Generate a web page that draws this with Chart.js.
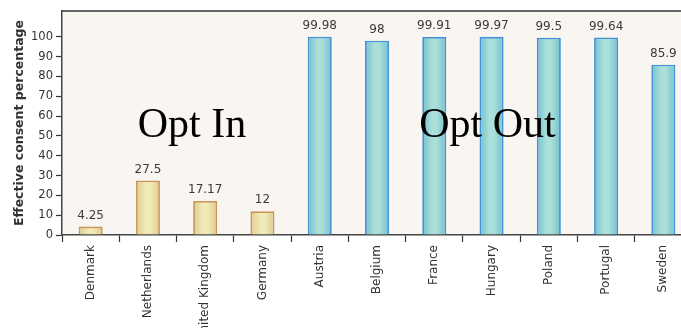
<!DOCTYPE html>
<html>
<head>
<meta charset="utf-8">
<script src="https://cdn.jsdelivr.net/npm/chart.js@4/dist/chart.umd.min.js"></script>
<style>
  html, body { margin: 0; padding: 0; background: #ffffff; overflow: hidden; }
  #wrap { position: relative; width: 692px; height: 328px; }
</style>
</head>
<body>
<div id="wrap"><canvas id="chart"></canvas></div>
<script>
// Effective organ-donation consent by country, grouped by consent system
const countries = ['Denmark', 'Netherlands', 'United Kingdom', 'Germany', 'Austria', 'Belgium',
                   'France', 'Hungary', 'Poland', 'Portugal', 'Sweden'];
const consentRates = [4.25, 27.5, 17.17, 12, 99.98, 98, 99.91, 99.97, 99.5, 99.64, 85.9];
const consentSystem = ['in', 'in', 'in', 'in', 'out', 'out', 'out', 'out', 'out', 'out', 'out'];
const yTickValues = [0, 10, 20, 30, 40, 50, 60, 70, 80, 90, 100];
const groupLabels = ['Opt In', 'Opt Out'];

const palette = {
  in:  { edge: '#dfcb8c', mid: '#efeab6', border: '#c8965a' },
  out: { edge: '#74bfcd', mid: '#aadfda', border: '#4094d6' }
};

const BAR_FRACTION = 0.42;

function barGradient(ctx) {
  const chart = ctx.chart;
  const sys = consentSystem[ctx.dataIndex] || 'in';
  const p = palette[sys];
  const xs = chart.scales && chart.scales.x;
  if (!xs || !chart.chartArea) return p.mid;
  const cx = xs.getPixelForValue(ctx.dataIndex);
  const half = xs.width / countries.length * BAR_FRACTION / 2;
  const g = chart.ctx.createLinearGradient(cx - half, 0, cx + half, 0);
  g.addColorStop(0, p.edge);
  g.addColorStop(0.4, p.mid);
  g.addColorStop(0.6, p.mid);
  g.addColorStop(1, p.edge);
  return g;
}

// Cream plot background and the dark frame line along the top
const plotFrame = {
  id: 'plotFrame',
  beforeDraw(chart) {
    const { ctx, chartArea: a } = chart;
    ctx.save();
    ctx.fillStyle = '#f9f6f2';
    ctx.fillRect(a.left, a.top, a.right - a.left, a.bottom - a.top);
    ctx.strokeStyle = '#666666';
    ctx.lineWidth = 2;
    ctx.beginPath();
    ctx.moveTo(a.left, a.top);
    ctx.lineTo(a.right, a.top);
    ctx.stroke();
    ctx.restore();
  }
};

// Value labels above the bars and the consent-system captions
const annotations = {
  id: 'annotations',
  afterDatasetsDraw(chart) {
    const { ctx } = chart;
    const meta = chart.getDatasetMeta(0);
    ctx.save();
    ctx.fillStyle = '#3a3a3a';
    ctx.font = '12px "DejaVu Sans"';
    ctx.textAlign = 'center';
    ctx.textBaseline = 'bottom';
    meta.data.forEach((bar, i) => {
      ctx.fillText(String(consentRates[i]), bar.x, bar.y - 5);
    });

    const xs = chart.scales.x, ys = chart.scales.y;
    const step = xs.getPixelForValue(1) - xs.getPixelForValue(0);
    const at = (idx) => xs.getPixelForValue(0) + idx * step;
    ctx.fillStyle = '#000000';
    ctx.font = '42px "Liberation Serif"';
    ctx.textBaseline = 'alphabetic';
    ctx.fillText(groupLabels[0], at(1.77), ys.getPixelForValue(49.5));
    ctx.fillText(groupLabels[1], at(6.93), ys.getPixelForValue(49.5));
    ctx.restore();
  }
};

new Chart(document.getElementById('chart'), {
  type: 'bar',
  data: {
    labels: countries,
    datasets: [{
      label: 'Effective consent percentage',
      data: consentRates,
      backgroundColor: barGradient,
      borderColor: consentSystem.map(s => palette[s].border),
      borderWidth: 1.8,
      borderSkipped: 'bottom',
      barPercentage: BAR_FRACTION,
      categoryPercentage: 1
    }]
  },
  options: {
    responsive: true,
    maintainAspectRatio: false,
    animation: false,
    layout: { padding: { top: 11, left: 12, right: 0, bottom: 0 } },
    plugins: { legend: { display: false }, tooltip: { enabled: false } },
    scales: {
      x: {
        offset: true,
        grid: { offset: true, drawOnChartArea: false, tickLength: 7, tickColor: '#333333', tickWidth: 1.2 },
        border: { color: '#444444', width: 1.5 },
        ticks: {
          color: '#333333',
          font: { family: 'DejaVu Sans', size: 12 },
          minRotation: 90, maxRotation: 90,
          padding: 3,
          autoSkip: false
        },
        afterFit(scale) { scale.height = 93; }
      },
      y: {
        min: 0,
        max: 113,
        afterBuildTicks(scale) { scale.ticks = yTickValues.map(v => ({ value: v })); },
        grid: { drawOnChartArea: false, tickLength: 6, tickColor: '#333333', tickWidth: 1.2 },
        border: { color: '#444444', width: 1.5 },
        ticks: {
          color: '#333333',
          font: { family: 'DejaVu Sans', size: 11.5 },
          padding: 3
        },
        title: {
          display: true,
          text: 'Effective consent percentage',
          color: '#333333',
          font: { family: 'DejaVu Sans', size: 12.5, weight: 'bold' },
          padding: { top: 0, bottom: 4 }
        },
        afterFit(scale) { scale.width = 50; }
      }
    }
  },
  plugins: [plotFrame, annotations]
});
</script>
</body>
</html>
